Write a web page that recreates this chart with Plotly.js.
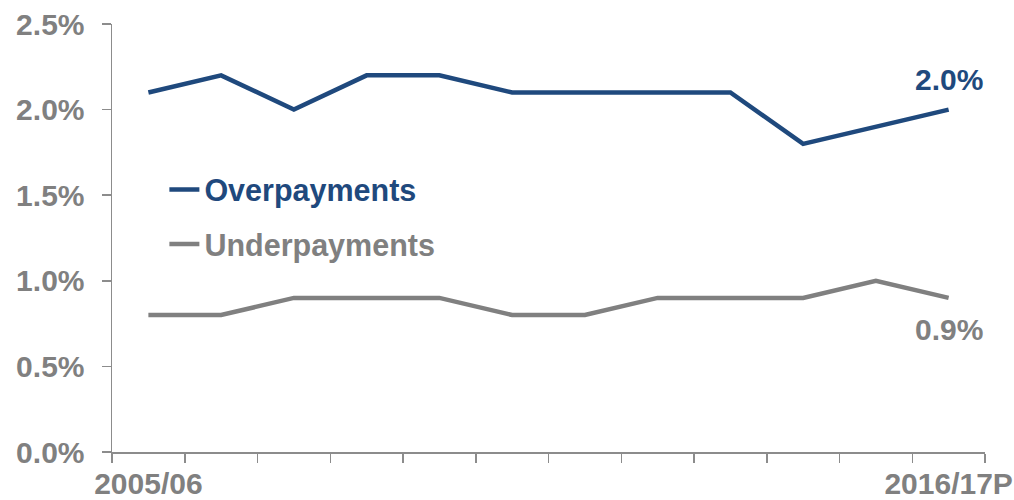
<!DOCTYPE html>
<html>
<head>
<meta charset="utf-8">
<script src="https://cdn.plot.ly/plotly-3.0.1.min.js"></script>
<style>html,body{margin:0;padding:0;background:#fff;}#chart{width:1014px;height:500px;}</style>
</head>
<body>
<div id="chart"></div>
<script>
const years = ["2005/06","2006/07","2007/08","2008/09","2009/10","2010/11","2011/12","2012/13","2013/14","2014/15","2015/16","2016/17P"];
const tickLabels = ["2005/06","","","","","","","","","","","2016/17P"];
const overpayments = [2.1, 2.2, 2.0, 2.2, 2.2, 2.1, 2.1, 2.1, 2.1, 1.8, 1.9, 2.0];
const underpayments = [0.8, 0.8, 0.9, 0.9, 0.9, 0.8, 0.8, 0.9, 0.9, 0.9, 1.0, 0.9];
const yTicks = [0, 0.5, 1.0, 1.5, 2.0, 2.5];

const BLUE = "#1f497d";
const GRAY = "#808080";
const FONT = "Liberation Sans, Arial, sans-serif";

const last = years.length - 1;

const data = [
  {x: years, y: overpayments, type: "scatter", mode: "lines",
   name: "<b><span style='color:" + BLUE + "'>Overpayments</span></b>",
   legendgroup: "a",
   line: {color: BLUE, width: 4.5}, hoverinfo: "skip"},
  {x: years, y: underpayments, type: "scatter", mode: "lines",
   name: "<b><span style='color:" + GRAY + "'>Underpayments</span></b>",
   legendgroup: "b",
   line: {color: GRAY, width: 4.5}, hoverinfo: "skip"}
];

const layout = {
  width: 1014, height: 500,
  margin: {l: 112, r: 29, t: 24, b: 48},
  paper_bgcolor: "#fff", plot_bgcolor: "#fff",
  font: {family: FONT, size: 30, color: GRAY},
  showlegend: true,
  legend: {x: 0.06, y: 0.675, xanchor: "left", yanchor: "top",
           bgcolor: "rgba(0,0,0,0)", font: {family: FONT, size: 30.5, color: GRAY},
           traceorder: "grouped", tracegroupgap: 12, itemwidth: 30},
  xaxis: {
    type: "category", range: [-0.5, last + 0.5],
    tickmode: "array", tickvals: years, ticktext: tickLabels, tickangle: 0,
    tickson: "boundaries", ticks: "outside", ticklen: 9, tickwidth: 1.5, tickcolor: "#8c8c8c",
    showline: true, linecolor: "#8c8c8c", linewidth: 1.5,
    showgrid: false, zeroline: false,
    ticklabelstandoff: 4,
    tickfont: {family: FONT, size: 30, color: GRAY, weight: "bold"},
    fixedrange: true
  },
  yaxis: {
    range: [0, 2.5], tickmode: "array", tickvals: yTicks,
    ticktext: yTicks.map(v => v.toFixed(1) + "%"),
    ticks: "outside", ticklen: 9, tickwidth: 1.5, tickcolor: "#8c8c8c",
    showline: true, linecolor: "#8c8c8c", linewidth: 1.5,
    showgrid: false, zeroline: false,
    ticklabelstandoff: 11,
    tickfont: {family: FONT, size: 30, color: GRAY, weight: "bold"},
    fixedrange: true
  },
  annotations: [
    {x: years[last], y: overpayments[last], xref: "x", yref: "y",
     text: "<b>" + overpayments[last].toFixed(1) + "%</b>", showarrow: false,
     yshift: 30, font: {family: FONT, size: 30, color: BLUE}},
    {x: years[last], y: underpayments[last], xref: "x", yref: "y",
     text: "<b>" + underpayments[last].toFixed(1) + "%</b>", showarrow: false,
     yshift: -32, font: {family: FONT, size: 30, color: GRAY}}
  ]
};

Plotly.newPlot("chart", data, layout, {displayModeBar: false, staticPlot: true});
</script>
</body>
</html>
